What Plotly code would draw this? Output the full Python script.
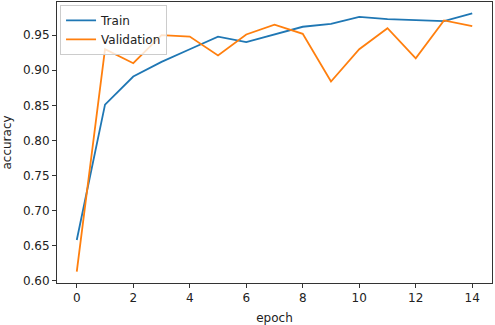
import plotly.graph_objects as go

epochs = list(range(15))
train_acc = [0.658, 0.851, 0.891, 0.912, 0.930, 0.948, 0.940, 0.951, 0.962, 0.966, 0.976, 0.973, 0.972, 0.970, 0.981]
val_acc = [0.613, 0.930, 0.910, 0.950, 0.948, 0.921, 0.951, 0.965, 0.952, 0.884, 0.930, 0.960, 0.917, 0.971, 0.963]
x_ticks = [0, 2, 4, 6, 8, 10, 12, 14]
y_ticks = [0.60, 0.65, 0.70, 0.75, 0.80, 0.85, 0.90, 0.95]

FONT = dict(family="DejaVu Sans", size=12, color="#222")

fig = go.Figure()
fig.add_trace(go.Scatter(x=epochs, y=train_acc, mode="lines", name="Train",
                         line=dict(color="#1f77b4", width=1.8)))
fig.add_trace(go.Scatter(x=epochs, y=val_acc, mode="lines", name="Validation",
                         line=dict(color="#ff7f0e", width=1.8)))

axis_common = dict(showgrid=False, zeroline=False, showline=True, linecolor="#333",
                   linewidth=1, mirror=True, ticks="outside", ticklen=4, tickcolor="#333",
                   tickfont=FONT)

fig.update_layout(
    width=495, height=325,
    margin=dict(l=57, r=3, t=2, b=42),
    paper_bgcolor="white", plot_bgcolor="white",
    showlegend=True,
    legend=dict(x=0.007, y=0.99, xanchor="left", yanchor="top",
                bgcolor="rgba(255,255,255,0.8)", bordercolor="#ccc", borderwidth=1,
                font=FONT, tracegroupgap=0, itemwidth=30),
    xaxis=dict(range=[-0.7, 14.7], tickvals=x_ticks, ticktext=[str(v) for v in x_ticks],
               title=dict(text="epoch", font=FONT, standoff=9),
               **axis_common),
    yaxis=dict(range=[0.5967, 0.9973], tickvals=y_ticks, ticktext=[f"{v:.2f}" for v in y_ticks],
               title=dict(text="accuracy", font=FONT, standoff=8),
               **axis_common),
)

fig.write_html("out.html")
